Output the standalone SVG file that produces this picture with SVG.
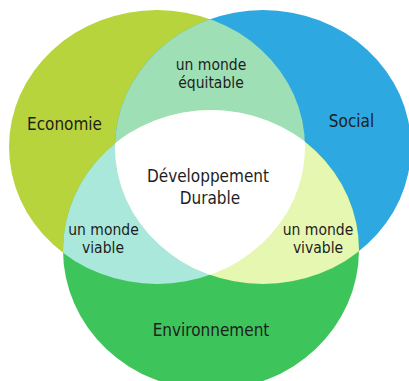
<svg xmlns="http://www.w3.org/2000/svg" xmlns:xlink="http://www.w3.org/1999/xlink" width="409" height="381" viewBox="0 0 409 381">
  <style>
    .lbl { font-family: "DejaVu Sans Condensed", "DejaVu Sans", sans-serif; font-stretch: condensed; fill: #1e1e1e; text-anchor: middle; }
    .big { font-size: 17px; }
    .small { font-size: 15.5px; }
  </style>
  <defs>
    <ellipse id="eL" cx="157" cy="147" rx="148" ry="137"/>
    <ellipse id="eR" cx="263" cy="147" rx="148" ry="137"/>
    <ellipse id="eB" cx="211" cy="250" rx="148" ry="140"/>
    <clipPath id="cL"><use xlink:href="#eL"/></clipPath>
    <clipPath id="cR"><use xlink:href="#eR"/></clipPath>
  </defs>
  <rect width="409" height="381" fill="#ffffff"/>
  <g id="economie">
    <use xlink:href="#eL" fill="#B8D43C"/>
  </g>
  <g id="social">
    <use xlink:href="#eR" fill="#2DA8E0"/>
  </g>
  <g id="environnement">
    <use xlink:href="#eB" fill="#3DC55B"/>
  </g>
  <g id="monde-equitable">
    <g clip-path="url(#cL)"><use xlink:href="#eR" fill="#9EDFB5"/></g>
  </g>
  <g id="monde-viable">
    <g clip-path="url(#cL)"><use xlink:href="#eB" fill="#AAE8DC"/></g>
  </g>
  <g id="monde-vivable">
    <g clip-path="url(#cR)"><use xlink:href="#eB" fill="#E6F7B2"/></g>
  </g>
  <g id="developpement-durable">
    <g clip-path="url(#cL)"><g clip-path="url(#cR)"><use xlink:href="#eB" fill="#ffffff"/></g></g>
  </g>
  <g id="connectors"></g>
  <g id="labels">
    <text class="lbl big" x="64.5" y="129.5">Economie</text>
    <text class="lbl big" x="351.5" y="127">Social</text>
    <text class="lbl big" x="211" y="336">Environnement</text>
    <text class="lbl big" x="208" y="182">Développement</text>
    <text class="lbl big" x="210" y="204">Durable</text>
    <text class="lbl small" x="211" y="70">un monde</text>
    <text class="lbl small" x="211" y="88">équitable</text>
    <text class="lbl small" x="103.5" y="235">un monde</text>
    <text class="lbl small" x="103" y="253">viable</text>
    <text class="lbl small" x="318" y="235">un monde</text>
    <text class="lbl small" x="318" y="253">vivable</text>
  </g>
</svg>
